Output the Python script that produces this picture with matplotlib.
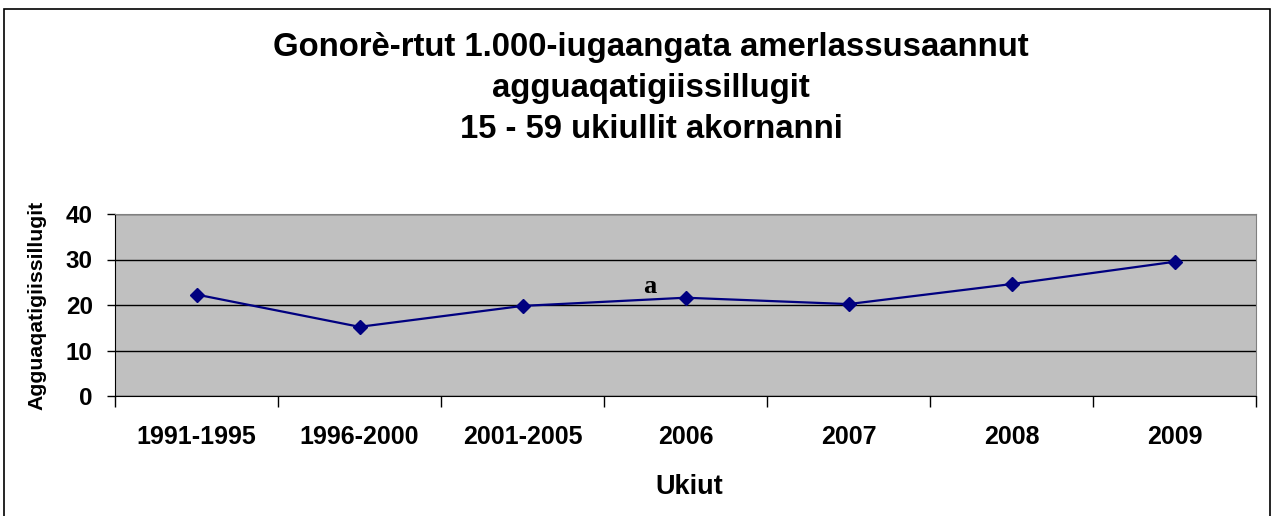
import matplotlib.pyplot as plt
from matplotlib.patches import Rectangle
import numpy as np

plt.rcParams['font.family'] = ['Liberation Sans', 'DejaVu Sans']

years = ['1991-1995', '1996-2000', '2001-2005', '2006', '2007', '2008', '2009']
rates = [22.3, 15.2, 19.8, 21.6, 20.2, 24.6, 29.5]
title_lines = ['Gonorè-rtut 1.000-iugaangata amerlassusaannut',
               'agguaqatigiissillugit',
               '15 - 59 ukiullit akornanni']

fig = plt.figure(figsize=(12.71, 5.16), dpi=100)
ax = fig.add_axes([115/1271, 120/516, 1141/1271, 182/516])

# outer frame of the chart object
fig.patches.append(Rectangle((4/1271, -0.05), 1266/1271, (507/516) + 0.05,
                             transform=fig.transFigure, fill=False,
                             edgecolor='black', linewidth=1.2))

ax.set_facecolor('#c0c0c0')
x = np.arange(len(years))
ax.plot(x, rates, color='#000080', linewidth=1.6, marker='D',
        markersize=7, markerfacecolor='#000080', markeredgecolor='#000080',
        zorder=3)

ax.set_xlim(-0.5, len(years) - 0.5)
ax.set_ylim(0, 40)
ax.set_yticks([0, 10, 20, 30, 40])
ax.yaxis.grid(True, color='black', linewidth=1)
ax.set_axisbelow(True)

# tick marks between categories, labels at category centres
ax.set_xticks(np.arange(-0.5, len(years)), minor=False)
ax.set_xticklabels([])
ax.set_xticks(x, minor=True)
ax.set_xticklabels(years, minor=True, fontsize=18, fontweight='bold')
ax.tick_params(axis='x', which='minor', length=0, pad=21)
ax.tick_params(axis='x', which='major', length=8, width=1, direction='out')
ax.tick_params(axis='y', length=6, width=1, direction='out', pad=10,
               labelsize=17.5)
for lab in ax.get_yticklabels():
    lab.set_fontweight('bold')

ax.spines['top'].set_color('#808080')
ax.spines['right'].set_color('#808080')
ax.spines['left'].set_color('black')
ax.spines['bottom'].set_color('black')

ax.set_xlabel('Ukiut', fontsize=19.5, fontweight='bold', labelpad=18)
ax.xaxis.label.set_x(0.503)
ax.set_ylabel('Agguaqatigiissillugit', fontsize=15.3, fontweight='bold',
              labelpad=14)

ax.text(2.78, 24.0, 'a', fontsize=19, fontweight='bold',
        family='Liberation Serif', ha='center', va='center')

for i, line in enumerate(title_lines):
    fig.text(651/1271, 1 - (48 + 41*i)/516, line, fontsize=23.7,
             fontweight='bold', ha='center', va='center')

fig.savefig('out.png', dpi=100)
